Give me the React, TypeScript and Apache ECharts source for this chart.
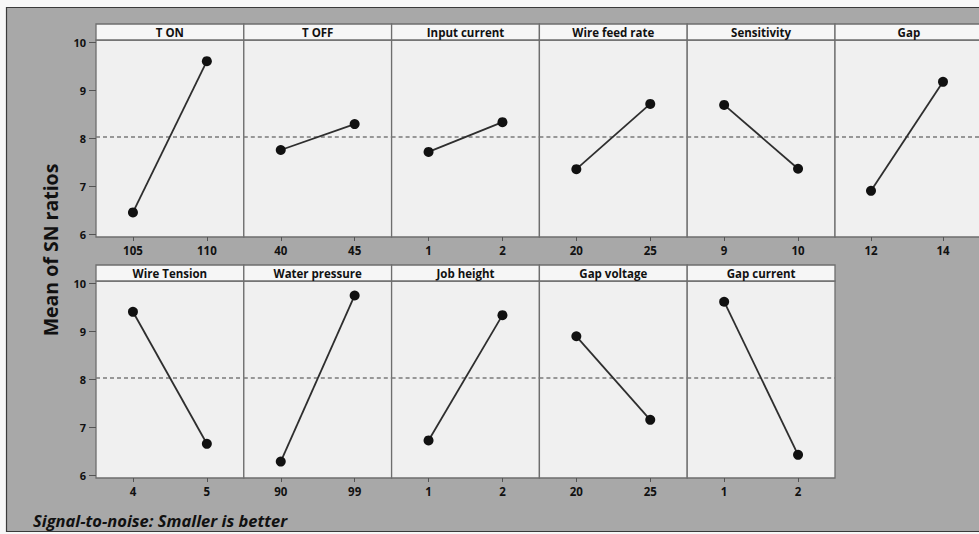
import React, { useEffect, useRef } from "react";
import * as echarts from "echarts";

const factors = [
  "T ON", "T OFF", "Input current", "Wire feed rate", "Sensitivity", "Gap",
  "Wire Tension", "Water pressure", "Job height", "Gap voltage", "Gap current",
];
const levels = [
  ["105", "110"], ["40", "45"], ["1", "2"], ["20", "25"], ["9", "10"], ["12", "14"],
  ["4", "5"], ["90", "99"], ["1", "2"], ["20", "25"], ["1", "2"],
];
const snMeans = [
  [6.45, 9.6], [7.75, 8.29], [7.71, 8.33], [7.35, 8.71], [8.69, 7.36], [6.9, 9.17],
  [9.4, 6.65], [6.28, 9.74], [6.72, 9.33], [8.89, 7.15], [9.61, 6.42],
];
const overallMean = 8.03;
const yMin = 6;
const yMax = 10;
const yStep = 1;
const yTitle = "Mean of SN ratios";
const footNote = "Signal-to-noise: Smaller is better";

export default function App() {
  const ref = useRef<HTMLDivElement>(null);

  useEffect(() => {
    if (!ref.current) return;
    const chart = echarts.init(ref.current, null, { renderer: "svg" });

    const FONT = "'Open Sans', 'DejaVu Sans', sans-serif";
    const perRow = 6;
    const x0 = 96;
    const pw = 147.8;
    const rowTops = [24, 265]; // header tops
    const headerH = 16;
    const plotH = 197;
    const gridTopOff = 18; // from header top to value 10
    const gridH = 192;

    const grids: any[] = [];
    const xAxes: any[] = [];
    const yAxes: any[] = [];
    const series: any[] = [];
    const graphics: any[] = [];

    // outer frame
    graphics.push({
      type: "rect",
      z: -10,
      shape: { x: 6.5, y: 7.5, width: 990, height: 524 },
      style: { fill: "#a8a8a8", stroke: "#3a3a3a", lineWidth: 1.2 },
    });

    factors.forEach((name, i) => {
      const row = i < perRow ? 0 : 1;
      const col = row === 0 ? i : i - perRow;
      const left = x0 + col * pw;
      const top = rowTops[row];

      graphics.push({
        type: "rect",
        z: -5,
        shape: { x: left, y: top + headerH, width: pw, height: plotH },
        style: { fill: "#f0f0f0", stroke: "#6e6e6e", lineWidth: 1.3 },
      });
      graphics.push({
        type: "rect",
        z: -5,
        shape: { x: left, y: top, width: pw, height: headerH },
        style: { fill: "#f6f6f6", stroke: "#6e6e6e", lineWidth: 1.3 },
      });
      graphics.push({
        type: "text",
        z: -4,
        x: left + pw / 2,
        y: top + headerH / 2 + 0.5,
        style: {
          text: name,
          font: `bold 11.5px ${FONT}`,
          fill: "#111",
          align: "center",
          verticalAlign: "middle",
        },
      });

      grids.push({
        left,
        top: top + gridTopOff,
        width: pw,
        height: gridH,
        show: false,
      });
      xAxes.push({
        type: "category",
        gridIndex: i,
        data: levels[i],
        boundaryGap: true,
        offset: 3,
        z: 5,
        axisLine: { show: false },
        axisTick: { show: true, alignWithLabel: true, length: 4, lineStyle: { color: "#555" } },
        axisLabel: {
          show: true,
          margin: 7,
          fontFamily: FONT,
          fontSize: 11.5,
          fontWeight: "bold",
          color: "#111",
        },
        splitLine: { show: false },
      });
      const first = col === 0;
      yAxes.push({
        type: "value",
        gridIndex: i,
        min: yMin,
        max: yMax,
        interval: yStep,
        z: 5,
        axisLine: { show: false },
        axisTick: { show: first, length: 7, lineStyle: { color: "#555" } },
        axisLabel: {
          show: first,
          margin: 10,
          fontFamily: FONT,
          fontSize: 11,
          fontWeight: "bold",
          color: "#111",
        },
        splitLine: { show: false },
      });
      series.push({
        type: "line",
        xAxisIndex: i,
        yAxisIndex: i,
        data: snMeans[i],
        symbol: "circle",
        symbolSize: 10,
        z: 10,
        itemStyle: { color: "#111" },
        lineStyle: { color: "#2e2e2e", width: 1.8 },
        markLine: {
          silent: true,
          symbol: "none",
          label: { show: false },
          lineStyle: { color: "#7a7a7a", type: [4, 3], width: 1.5 },
          data: [{ yAxis: overallMean }],
        },
      });
    });

    graphics.push({
      type: "text",
      z: 1,
      x: 50,
      y: 250,
      rotation: Math.PI / 2,
      style: {
        text: yTitle,
        font: `bold 19.5px ${FONT}`,
        fill: "#111",
        align: "center",
        verticalAlign: "middle",
      },
    });
    graphics.push({
      type: "text",
      z: 1,
      x: 33,
      y: 520,
      style: {
        text: footNote,
        font: `italic bold 16.5px ${FONT}`,
        fill: "#111",
        align: "left",
        verticalAlign: "middle",
      },
    });

    chart.setOption({
      animation: false,
      backgroundColor: "#f7f7f7",
      grid: grids,
      xAxis: xAxes,
      yAxis: yAxes,
      series,
      graphic: graphics,
    });

    return () => chart.dispose();
  }, []);

  return (
    <div
      ref={ref}
      style={{ position: "fixed", left: 0, top: 0, width: 979, height: 534 }}
    />
  );
}
